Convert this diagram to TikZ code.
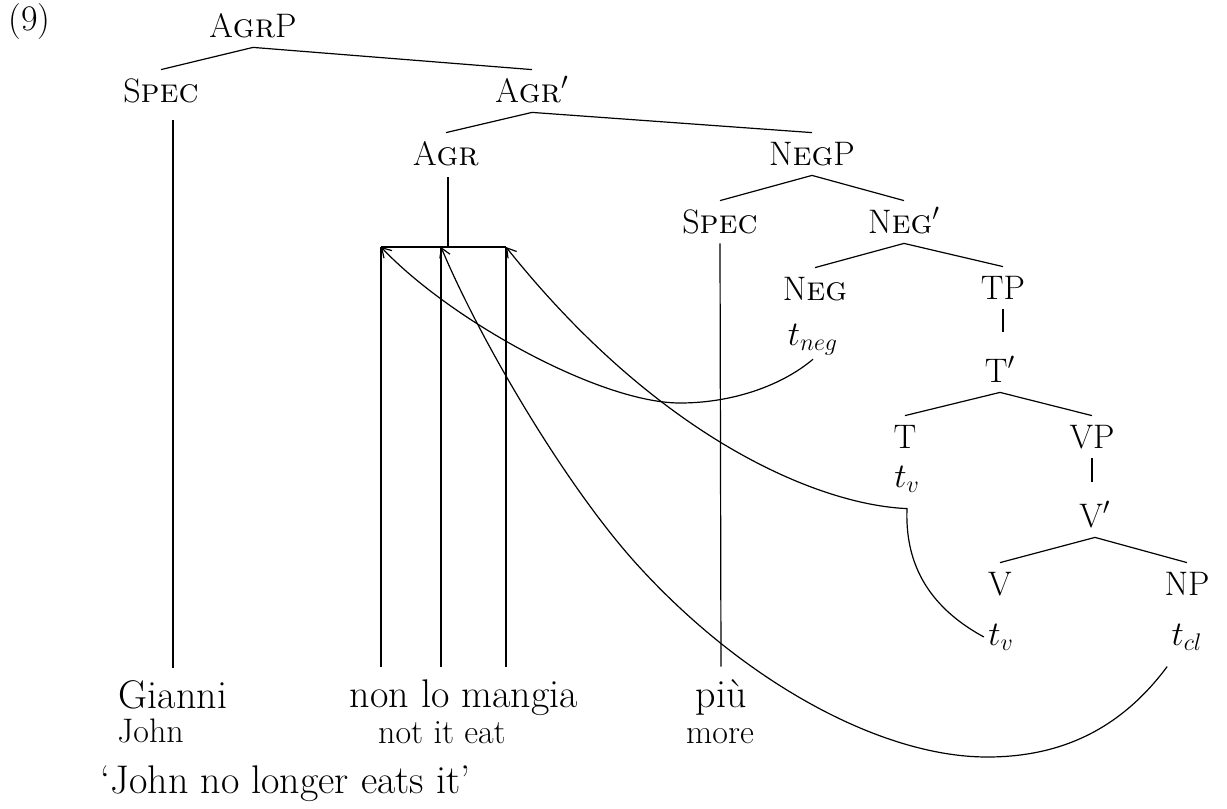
\documentclass[tikz,border=0pt]{standalone}
\usepackage{fontspec}
\usepackage{amsmath}
\usetikzlibrary{arrows.meta,calc}

\begin{document}
\begin{tikzpicture}[x=0.5pt, y=-0.5pt,
        cat/.style={anchor=base, inner xsep=0pt, inner ysep=5pt, text height=11pt, text depth=0pt, font=\fontsize{17}{20}\selectfont},
        trace/.style={anchor=base, inner sep=2pt, font=\fontsize{17.5}{20}\selectfont},
        word/.style={anchor=base, inner xsep=0pt, inner ysep=8pt, text height=12pt, text depth=0pt, font=\fontsize{20}{22}\selectfont},
        gloss/.style={anchor=base, inner sep=0pt, font=\fontsize{17}{19}\selectfont},
        branch/.style={line width=0.6pt},
        move/.style={line width=0.6pt, -{Straight Barb[length=4.5pt,width=5.5pt]}}]

        \useasboundingbox (0,0) rectangle (1227,809);

        \node[cat, anchor=base west, font=\fontsize{18}{20}\selectfont] (exno) at (8,30) {(9)};

        % tree
        \node[cat] (agrp) at (253,37) {A\textsc{gr}P};
        \node[cat] (spec1) at (161,102) {S\textsc{pec}};
        \node[cat] (agrbar) at (532,102) {A\textsc{gr}$'$};
        \node[cat] (agr) at (446,165) {A\textsc{gr}};
        \node[cat] (negp) at (812,165) {N\textsc{eg}P};
        \node[cat] (spec2) at (720,233) {S\textsc{pec}};
        \node[cat] (negbar) at (904,233) {N\textsc{eg}$'$};
        \node[cat] (neg) at (815,300) {N\textsc{eg}};
        \node[cat] (tp) at (1003,299) {TP};
        \node[cat] (tbar) at (1000,382) {T$'$};
        \node[cat] (t) at (905,448) {T};
        \node[cat] (vp) at (1092,448) {VP};
        \node[cat] (vbar) at (1095,527) {V$'$};
        \node[cat] (v) at (1000,595) {V};
        \node[cat] (np) at (1187,595) {NP};

        % traces
        \node[trace] (tneg) at (813,345) {$t_{neg}$};
        \node[trace] (tvT) at (907,487) {$t_v$};
        \node[trace] (tvV) at (1001,645) {$t_v$};
        \node[trace] (tcl) at (1187,645) {$t_{cl}$};

        % words and glosses
        \node[word] (gianni) at (173,708) {Gianni};
        \node[word] (nonlo) at (464,707) {non lo mangia};
        \node[word] (piu) at (721,707) {più};
        \node[gloss, anchor=base west] (john) at (117,742) {John};
        \node[gloss] (notit) at (442,743) {not it eat};
        \node[gloss] (more) at (720,743) {more};
        \node[word, anchor=base west] (transl) at (100,793) {‘John no longer eats it’};

        \coordinate (barnon) at (381,247);
        \coordinate (barlo) at (441,247);
        \coordinate (barmangia) at (506,247);
        \coordinate (barjoin) at (448,247);
        \coordinate (tvbend) at ([yshift=-6pt]tvT.south);

        \draw[branch] (agrp.south) -- (spec1.north);
        \draw[branch] (agrp.south) -- (agrbar.north);
        \draw[branch] (agrbar.south) -- (agr.north);
        \draw[branch] (agrbar.south) -- (negp.north);
        \draw[branch] (negp.south) -- (spec2.north);
        \draw[branch] (negp.south) -- (negbar.north);
        \draw[branch] (negbar.south) -- (neg.north);
        \draw[branch] (negbar.south) -- (tp.north);
        \draw[branch, shorten >=9pt] (tp.south) -- (tp.south |- tbar.north);
        \draw[branch] (tbar.south) -- (t.north);
        \draw[branch] (tbar.south) -- (vp.north);
        \draw[branch, shorten >=6.5pt] (vp.south) -- (vp.south |- vbar.north);
        \draw[branch] (vbar.south) -- (v.north);
        \draw[branch] (vbar.south) -- (np.north);

        \draw[branch, shorten <=4pt] (gianni.north |- spec1.south) -- (gianni.north);
        \draw[branch] (spec2.south) -- (piu.north);
        \draw[branch, shorten <=1pt] (barjoin |- agr.south) -- (barjoin);
        \draw[branch] (barnon) -- (barmangia);
        \foreach \c in {barnon,barlo,barmangia}
            \draw[branch] (\c) -- (\c |- nonlo.north);

        % movement
        \draw[move] (tneg.south) .. controls (780,387) and (730,403) .. (680,403)
            .. controls (600,403) and (450,320) .. (barnon);
        \draw[move] (tvV.west) .. controls (925,605) and (905,560) .. (tvbend)
            .. controls (820,505) and (660,440) .. (barmangia);
        \draw[move] ([yshift=-6pt]tcl.south west) .. controls (1120,730) and (1060,757) .. (987,757)
            .. controls (880,757) and (740,680) .. (633,560)
            .. controls (563,481) and (480,340) .. (barlo);

    \end{tikzpicture}
\end{document}
